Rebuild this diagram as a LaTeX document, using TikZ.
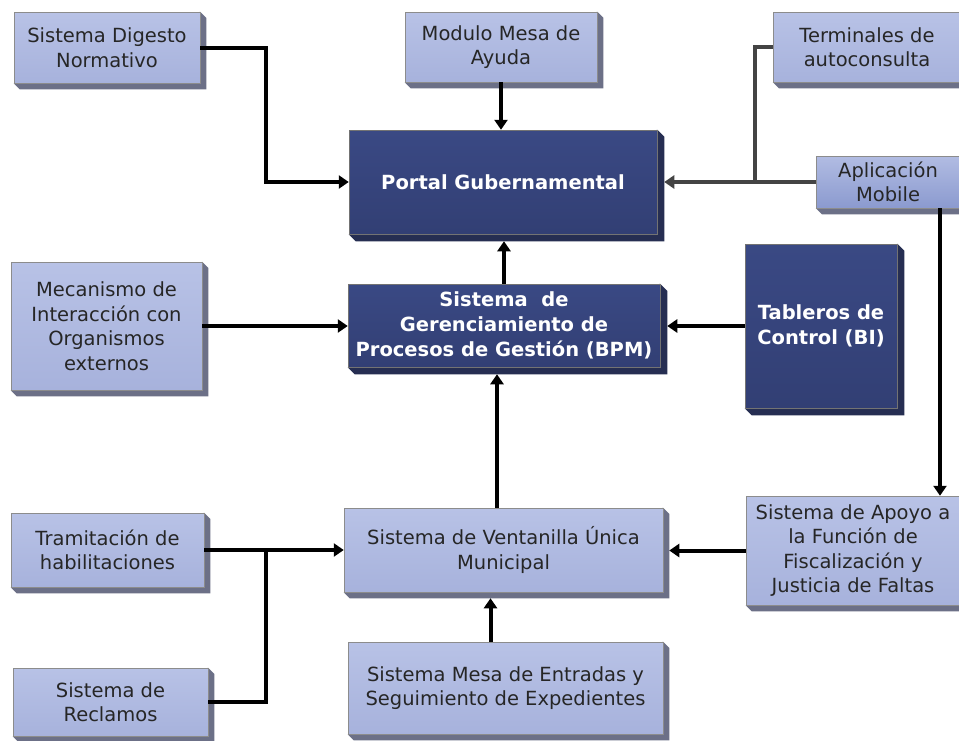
\documentclass[tikz,border=0pt]{standalone}
\usepackage{fontspec}
\setmainfont{DejaVu Sans}
\usetikzlibrary{arrows.meta,backgrounds,calc}

\definecolor{lighttop}{HTML}{B8C2E6}
\definecolor{lightbot}{HTML}{A7B2DC}
\definecolor{mobilebot}{HTML}{8B9ACF}
\definecolor{lightedge}{HTML}{6C7087}
\definecolor{darktop}{HTML}{3A4984}
\definecolor{darkbot}{HTML}{323F74}
\definecolor{darkedge}{HTML}{262E52}
\definecolor{greyline}{HTML}{444444}

\tikzset{
  sysbox/.style={draw=black!45, line width=0.5pt, top color=lighttop, bottom color=lightbot,
    text=black!85, align=center, inner sep=0pt, font=\fontsize{19.5}{24.5}\selectfont},
  corebox/.style={draw=black!55, line width=0.5pt, top color=darktop, bottom color=darkbot,
    text=white, align=center, inner sep=0pt, font=\bfseries\fontsize{19.5}{25}\selectfont},
  link/.style={line width=4pt, -{Triangle[length=10pt,width=13pt]}},
}

\begin{document}
\begin{tikzpicture}[x=1pt,y=-1pt]
  \useasboundingbox (0,0) rectangle (959,740);
  % light boxes
  \node[sysbox, minimum width=186, minimum height=71] (digesto) at (107,47.5) {Sistema Digesto\\Normativo};
  \node[sysbox, minimum width=192, minimum height=70] (ayuda) at (501,47) {Modulo Mesa de\\Ayuda};
  \node[sysbox, minimum width=188, minimum height=70] (terminales) at (867,47) {Terminales de\\autoconsulta};
  \node[sysbox, minimum width=144, minimum height=52, top color=lighttop!85!mobilebot, bottom color=mobilebot] (mobile) at (888,182) {Aplicación\\Mobile};
  \node[sysbox, minimum width=191, minimum height=128] (mecanismo) at (106.5,326) {Mecanismo de\\Interacción con\\Organismos\\externos};
  \node[sysbox, minimum width=193, minimum height=74] (tramitacion) at (107.5,550) {Tramitación de\\habilitaciones};
  \node[sysbox, minimum width=195, minimum height=68] (reclamos) at (110.5,702) {Sistema de\\Reclamos};
  \node[sysbox, minimum width=319, minimum height=84] (ventanilla) at (503.5,550) {Sistema de Ventanilla Única\\Municipal};
  \node[sysbox, minimum width=214, minimum height=109] (apoyo) at (853,550.5) {Sistema de Apoyo a\\la Función de\\Fiscalización y\\Justicia de Faltas};
  \node[sysbox, minimum width=315, minimum height=92] (entradas) at (505.5,688) {Sistema Mesa de Entradas y\\Seguimiento de Expedientes};
  % dark boxes
  \node[corebox, minimum width=308, minimum height=104] (portal) at (503,182) {Portal Gubernamental};
  \node[corebox, minimum width=312, minimum height=83] (bpm) at (504,325.5) {Sistema\ \ de\\Gerenciamiento de\\Procesos de Gestión (BPM)};
  \node[corebox, minimum width=152, minimum height=164] (tableros) at (821,326) {Tableros de\\Control (BI)};

  \begin{pgfonlayer}{background}
    \fill[white] (0,0) rectangle (959,740);
    \foreach \n in {digesto,ayuda,terminales,mobile,mecanismo,tramitacion,reclamos,ventanilla,apoyo,entradas}
      \fill[lightedge] (\n.north east) -- ++(6,6) -- ($(\n.south east)+(6,6)$)
        -- ($(\n.south west)+(6,6)$) -- (\n.south west) -- cycle;
    \foreach \n in {portal,bpm,tableros}
      \fill[darkedge] (\n.north east) -- ++(7,7) -- ($(\n.south east)+(7,7)$)
        -- ($(\n.south west)+(7,7)$) -- (\n.south west) -- cycle;
  \end{pgfonlayer}

  \coordinate (jdig) at (266,120);
  \coordinate (jter) at (755,182);
  \coordinate (jrec) at (266,550);

  \begin{scope}[link]
    \draw (digesto.east) -| (jdig) |- (portal.west);
    \draw (ayuda.south) -- (ayuda.south |- portal.north);
    \draw[shorten >=7pt] (bpm.north) -- (bpm.north |- portal.south);
    \draw[-, greyline] (terminales.west) -| (jter);
    \draw[greyline, shorten >=7pt] (mobile.west) -- (mobile.west -| portal.east);
    \draw (mecanismo.east) -- (mecanismo.east -| bpm.west);
    \draw[shorten >=7pt] (tableros.west) -- (tableros.west -| bpm.east);
    \draw[shorten >=7pt] ([xshift=-6.5pt]ventanilla.north) -- ([xshift=-6.5pt]ventanilla.north |- bpm.south);
    \draw ([xshift=52pt]mobile.south) -- ([xshift=52pt]mobile.south |- apoyo.north);
    \draw[shorten >=6pt] (apoyo.west) -- (apoyo.west -| ventanilla.east);
    \draw (tramitacion.east) -- (tramitacion.east -| ventanilla.west);
    \draw[-] (reclamos.east) -| (jrec);
    \draw[shorten >=6pt] ([xshift=-15pt]entradas.north) -- ([xshift=-15pt]entradas.north |- ventanilla.south);
  \end{scope}
\end{tikzpicture}
\end{document}
